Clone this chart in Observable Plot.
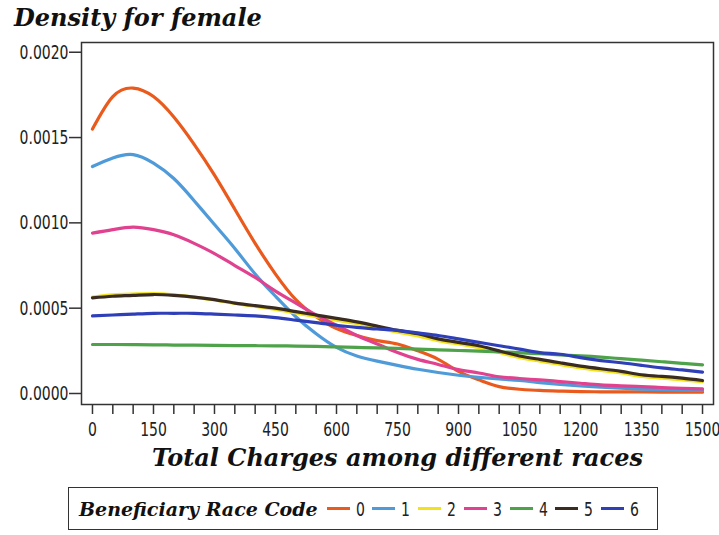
<!DOCTYPE html>
<html>
<head>
<meta charset="utf-8">
<script src="https://cdn.jsdelivr.net/npm/d3@7"></script>
<script src="https://cdn.jsdelivr.net/npm/@observablehq/plot@0.6"></script>
<style>
  html, body { margin: 0; padding: 0; background: #fff; }
  body { width: 719px; height: 535px; position: relative; overflow: hidden; }
  #title {
    position: absolute; left: 14px; top: 3px;
    font: italic bold 24px "DejaVu Serif", serif; color: #111;
  }
  #chart { position: absolute; left: 0; top: 0; }
  #legend {
    position: absolute; left: 68px; top: 487px; width: 590px; height: 43px;
    box-sizing: border-box; border: 1.5px solid #333;
    display: flex; align-items: center; padding-left: 10px;
    font: 20px "DejaVu Sans", sans-serif; color: #222;
  }
  #legend .head { font: italic bold 19px "DejaVu Serif", serif; color: #111; margin-right: 6px; }
  #legend .sw { display: inline-block; width: 23px; height: 3px; margin: 0 4px 0 3px; }
  #legend .lab { display: inline-block; transform: scaleX(0.7); margin-right: 3px; }
</style>
</head>
<body>
<div id="title">Density for female</div>
<div id="chart"></div>
<div id="legend"></div>
<script>
// Total charges at which each density curve is sampled
const charges = [0, 50, 100, 150, 200, 250, 300, 350, 400, 450, 500, 550, 600, 650, 700, 750,
                 800, 850, 900, 950, 1000, 1050, 1100, 1150, 1200, 1250, 1300, 1350, 1400, 1450, 1500];

// Beneficiary race codes and their line colours
const raceCodes = ["0", "1", "2", "3", "4", "5", "6"];
const raceColors = ["#ea5a1c", "#4f9bd9", "#f2e21e", "#e0428f", "#4ea24a", "#3a2c22", "#2f3fb8"];

// Estimated density for female patients, one array per race code
const density0 = [0.00155, 0.00174, 0.00179, 0.00174, 0.00162, 0.00146, 0.00128, 0.00108, 0.00088, 0.00070,
                  0.00055, 0.00045, 0.00038, 0.00034, 0.00031, 0.00029, 0.00025, 0.00020, 0.00013, 0.00008,
                  0.00004, 0.000025, 0.000018, 0.000014, 0.000011, 0.00001, 0.000009, 0.000009, 0.000008, 0.000008, 0.000008];
const density1 = [0.00133, 0.00138, 0.00140, 0.00135, 0.00126, 0.00113, 0.00099, 0.00085, 0.00070, 0.00057,
                  0.00045, 0.00035, 0.00027, 0.00022, 0.00019, 0.000165, 0.000142, 0.000123, 0.000107, 0.000095,
                  0.000085, 0.000076, 0.000064, 0.000053, 0.000044, 0.000037, 0.000031, 0.000026, 0.000022, 0.00002, 0.000018];
const density2 = [0.000565, 0.000578, 0.000583, 0.000585, 0.000578, 0.000565, 0.000548, 0.000528, 0.00051, 0.000493,
                  0.000472, 0.00045, 0.00043, 0.00041, 0.000385, 0.00036, 0.000338, 0.00031, 0.00029, 0.000268,
                  0.00024, 0.00021, 0.00019, 0.00017, 0.00015, 0.000135, 0.00012, 0.0001, 0.00009, 0.00008, 0.00007];
const density3 = [0.00094, 0.00096, 0.000975, 0.00096, 0.00093, 0.00088, 0.00082, 0.00075, 0.00068, 0.00060,
                  0.00053, 0.00046, 0.00040, 0.00034, 0.00029, 0.00024, 0.00020, 0.00017, 0.00014, 0.00012,
                  0.000098, 0.000088, 0.00008, 0.00007, 0.00006, 0.00005, 0.000045, 0.00004, 0.000035, 0.00003, 0.000027];
const density4 = [0.000287, 0.000287, 0.000286, 0.000285, 0.000284, 0.000283, 0.000282, 0.000281, 0.00028, 0.000279,
                  0.000278, 0.000276, 0.000273, 0.00027, 0.000267, 0.000264, 0.00026, 0.000256, 0.000252, 0.000248,
                  0.000244, 0.00024, 0.000233, 0.000226, 0.00022, 0.000213, 0.000204, 0.000195, 0.000186, 0.000177, 0.000168];
const density5 = [0.00056, 0.00057, 0.000575, 0.00058, 0.000575, 0.000565, 0.00055, 0.00053, 0.000515, 0.0005,
                  0.00048, 0.00046, 0.00044, 0.00042, 0.000395, 0.00037, 0.00035, 0.00032, 0.0003, 0.00028,
                  0.00025, 0.00022, 0.0002, 0.00018, 0.00016, 0.000145, 0.00013, 0.00011, 0.0001, 0.00009, 0.000076];
const density6 = [0.000455, 0.00046, 0.000465, 0.00047, 0.00047, 0.00047, 0.000465, 0.00046, 0.000455, 0.000445,
                  0.00043, 0.000415, 0.0004, 0.000388, 0.000378, 0.00037, 0.000355, 0.00034, 0.00032, 0.0003,
                  0.00028, 0.00026, 0.00024, 0.00023, 0.00021, 0.000193, 0.00018, 0.000165, 0.00015, 0.000138, 0.000125];

// Axis ticks
const xTicks = [0, 50, 100, 150, 200, 250, 300, 350, 400, 450, 500, 550, 600, 650, 700, 750,
                800, 850, 900, 950, 1000, 1050, 1100, 1150, 1200, 1250, 1300, 1350, 1400, 1450, 1500];
const xLabelEvery = 150;
const yTicks = [0, 0.0005, 0.0010, 0.0015, 0.0020];

const titleText = "Density for female";
const xAxisTitle = "Total Charges among different races";
const legendTitle = "Beneficiary Race Code";

// Long-format rows for the line mark
const seriesList = [density0, density1, density2, density3, density4, density5, density6];
const rows = [];
seriesList.forEach((vals, k) => {
  vals.forEach((v, i) => rows.push({ charge: charges[i], density: v, code: raceCodes[k] }));
});

const chart = Plot.plot({
  width: 719,
  height: 480,
  marginTop: 42,
  marginBottom: 76,
  marginLeft: 81,
  marginRight: 6,
  style: { fontFamily: '"DejaVu Sans", sans-serif', fontSize: "20px", color: "#222", background: "transparent" },
  x: { domain: [-27, 1527] },
  y: { domain: [-0.0000645, 0.002057] },
  color: { domain: raceCodes, range: raceColors },
  marks: [
    Plot.line(rows, {
      x: "charge", y: "density", z: "code", stroke: "code",
      strokeWidth: 3.2, curve: "natural"
    }),
    Plot.frame({ stroke: "#333", strokeWidth: 1.5 }),
    Plot.axisY({
      ticks: yTicks, tickFormat: d3.format(".4f"), tickSize: 12, tickPadding: 1,
      stroke: "#333", strokeWidth: 1.5, label: null
    }),
    Plot.axisX({
      ticks: xTicks, tickFormat: d => (d % xLabelEvery === 0 ? String(d) : ""),
      tickSize: 10, tickPadding: 7, stroke: "#333", strokeWidth: 1.5, label: null
    }),
    Plot.text([xAxisTitle], {
      frameAnchor: "bottom", dy: 61, text: d => d,
      fontFamily: '"DejaVu Serif", serif', fontStyle: "italic", fontWeight: "bold",
      fontSize: 24, fill: "#111"
    })
  ]
});

// Narrow the tick labels to a condensed look
d3.select(chart).selectAll("g[aria-label='x-axis tick label'] text, g[aria-label='y-axis tick label'] text")
  .each(function () {
    const t = this.getAttribute("transform") || "";
    this.setAttribute("transform", t + " scale(0.7,1)");
  });

document.getElementById("chart").appendChild(chart);
document.getElementById("title").textContent = titleText;

// Legend row below the chart
const legend = d3.select("#legend");
legend.append("span").attr("class", "head").text(legendTitle);
raceCodes.forEach((c, i) => {
  legend.append("span").attr("class", "sw").style("background", raceColors[i]);
  legend.append("span").attr("class", "lab").text(c);
});
</script>
</body>
</html>
